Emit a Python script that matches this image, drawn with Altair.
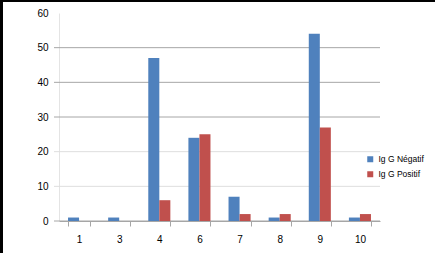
import altair as alt
import pandas as pd

categories = ["1", "3", "4", "6", "7", "8", "9", "10"]
negatif = [1, 1, 47, 24, 7, 1, 54, 1]
positif = [0, 0, 6, 25, 2, 2, 27, 2]
series_names = ["Ig G Négatif", "Ig G Positif"]
colors = ["#4F81BD", "#C0504D"]
y_ticks = [0, 10, 20, 30, 40, 50, 60]
dark_grid = [0, 30, 40, 50]
light_grid = [10, 20]

rows = []
for c, n, p in zip(categories, negatif, positif):
    rows.append({"cat": c, "serie": series_names[0], "val": n})
    rows.append({"cat": c, "serie": series_names[1], "val": p})
df = pd.DataFrame(rows)

FONT = "Liberation Sans"

y_scale = alt.Scale(domain=[0, 60])
y_axis = alt.Axis(values=y_ticks, ticks=False, grid=False, labelOverlap=False,
                  domainColor="#e4e4e4", labelPadding=11,
                  labelFont=FONT, labelFontSize=10, labelColor="#000000")

dark = alt.Chart(pd.DataFrame({"val": dark_grid})).mark_rule(color="#a6a6a6").encode(
    y=alt.Y("val:Q", scale=y_scale, title=None, axis=y_axis),
    x=alt.value(-5), x2=alt.value(321))
light = alt.Chart(pd.DataFrame({"val": light_grid})).mark_rule(color="#dedede").encode(
    y=alt.Y("val:Q", scale=y_scale, title=None, axis=y_axis),
    x=alt.value(-5), x2=alt.value(321))

bars = alt.Chart(df).mark_bar().encode(
    x=alt.X("cat:N", sort=categories, title=None,
            scale=alt.Scale(paddingInner=0.45, paddingOuter=0.225),
            axis=alt.Axis(labelAngle=0, tickBand="extent", ticks=True, tickSize=5,
                          tickColor="#a6a6a6", domainColor="#a6a6a6", labelPadding=8,
                          labelFont=FONT, labelFontSize=10, labelColor="#000000",
                          grid=False)),
    xOffset=alt.XOffset("serie:N", sort=series_names),
    y=alt.Y("val:Q", title=None, scale=y_scale, axis=y_axis),
    color=alt.Color("serie:N", sort=series_names,
                    scale=alt.Scale(domain=series_names, range=colors),
                    legend=alt.Legend(title=None, orient="none", legendX=307, legendY=142,
                                      symbolType="square", symbolSize=36,
                                      labelFont=FONT, labelFontSize=8.5,
                                      rowPadding=6, symbolStrokeWidth=0)),
)

frame_top = alt.Chart(df).mark_rule(color="#000000", strokeWidth=1.5).encode(
    x=alt.value(-58), x2=alt.value(376), y=alt.value(-12.5))
frame_left = alt.Chart(df).mark_rule(color="#000000", strokeWidth=1.5).encode(
    x=alt.value(-57.5), y=alt.value(-13), y2=alt.value(240))

chart = alt.layer(light, dark, bars, frame_top, frame_left).properties(
    width=321, height=208,
    background="#ffffff",
    autosize=alt.AutoSizeParams(type="none"),
    padding={"left": 59, "top": 13, "right": 55, "bottom": 32},
).configure_view(stroke="transparent").configure_axisY(labelOverlap=False)

chart.save("out.html", embed_options={"renderer": "svg", "actions": False})
